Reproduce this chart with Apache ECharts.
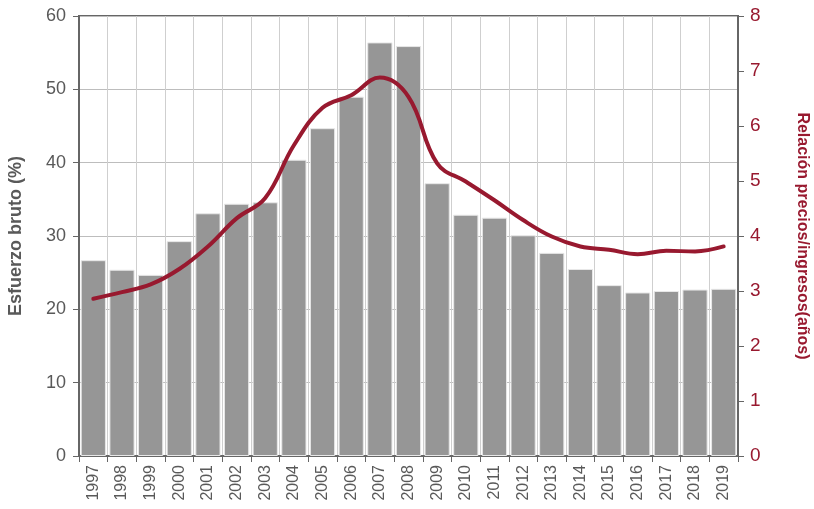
<!DOCTYPE html>
<html>
<head>
<meta charset="utf-8">
<script src="https://cdn.jsdelivr.net/npm/echarts@6/dist/echarts.min.js"></script>
<style>
  html, body { margin: 0; padding: 0; background: #fff; }
  #chart { width: 814px; height: 509px; }
</style>
</head>
<body>
<div id="chart"></div>
<script>
const years = ['1997', '1998', '1999', '2000', '2001', '2002', '2003', '2004', '2005', '2006', '2007', '2008',
  '2009', '2010', '2011', '2012', '2013', '2014', '2015', '2016', '2017', '2018', '2019']
// esfuerzo bruto (%)
const esfuerzo = [26.7, 25.4, 24.7, 29.3, 33.1, 34.4, 34.6, 40.4, 44.7, 49.0, 56.4, 55.9,
  37.2, 32.9, 32.5, 30.1, 27.7, 25.5, 23.3, 22.3, 22.5, 22.7, 22.8]
// relacion precios/ingresos (años)
const relacion = [2.86, 2.98, 3.12, 3.4, 3.81, 4.32, 4.69, 5.65, 6.33, 6.56, 6.88, 6.53,
  5.32, 4.99, 4.65, 4.29, 3.99, 3.81, 3.75, 3.67, 3.73, 3.72, 3.81]

const gray = '#595959'
const red = '#98192f'
const font = 'Liberation Sans, Arial, sans-serif'

const chart = echarts.init(document.getElementById('chart'))
chart.setOption({
  animation: false,
  textStyle: { fontFamily: font },
  grid: {
    left: 79, right: 76, top: 16, bottom: 53,
    containLabel: false,
    outerBoundsMode: 'none',
    show: true, borderColor: '#666666', borderWidth: 2
  },
  xAxis: {
    type: 'category',
    data: years,
    axisLine: { lineStyle: { color: '#666666', width: 2 } },
    axisTick: { show: true, length: 6, lineStyle: { color: '#666666' } },
    axisLabel: { rotate: 90, color: gray, fontSize: 16, margin: 9 },
    splitLine: { show: true, lineStyle: { color: '#cfcfcf', width: 1 } }
  },
  yAxis: [
    {
      type: 'value',
      min: 0, max: 60, interval: 10,
      name: 'Esfuerzo bruto (%)',
      nameLocation: 'middle',
      nameGap: 54,
      nameTextStyle: { color: gray, fontSize: 18, fontWeight: 'bold' },
      axisLine: { show: true, lineStyle: { color: '#666666', width: 2 } },
      axisTick: { show: true, length: 6, lineStyle: { color: '#666666' } },
      axisLabel: { color: gray, fontSize: 18, margin: 13 },
      splitLine: { show: true, lineStyle: { color: '#bdbdbd', width: 1 } }
    },
    {
      type: 'value',
      min: 0, max: 8, interval: 1,
      position: 'right',
      name: 'Relación precios/ingresos(años)',
      nameLocation: 'middle',
      nameGap: 56,
      nameRotate: -90,
      nameTextStyle: { color: red, fontSize: 16, fontWeight: 'bold' },
      axisLine: { show: true, lineStyle: { color: '#666666', width: 2 } },
      axisTick: { show: true, length: 6, lineStyle: { color: '#666666' } },
      axisLabel: { color: red, fontSize: 19, margin: 12 },
      splitLine: { show: false }
    }
  ],
  series: [
    {
      name: 'Esfuerzo bruto',
      type: 'bar',
      data: esfuerzo,
      barCategoryGap: '12%',
      itemStyle: { color: '#969696', borderColor: '#e8e8e8', borderWidth: 1 }
    },
    {
      name: 'Relación precios/ingresos',
      type: 'line',
      yAxisIndex: 1,
      data: relacion,
      smooth: 0.4,
      showSymbol: false,
      lineStyle: { color: red, width: 4, cap: 'round' },
      itemStyle: { color: red }
    }
  ]
})
</script>
</body>
</html>
